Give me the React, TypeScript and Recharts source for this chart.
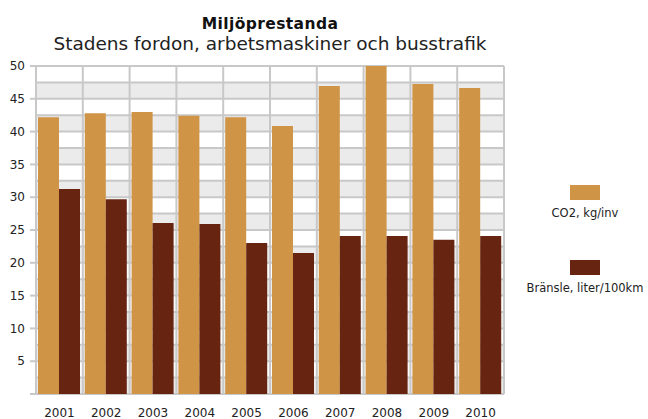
import React from 'react';
import { BarChart, Bar, XAxis, YAxis, CartesianGrid } from 'recharts';

const years = ['2001', '2002', '2003', '2004', '2005', '2006', '2007', '2008', '2009', '2010'];
const co2 = [42.2, 42.8, 43.0, 42.4, 42.2, 40.85, 46.95, 50.0, 47.25, 46.65];
const fuel = [31.25, 29.7, 26.05, 25.9, 23.0, 21.5, 24.1, 24.1, 23.5, 24.1];
const seriesNames = ['CO2, kg/inv', 'Bränsle, liter/100km'];
const seriesColors = ['#CF9445', '#672511'];
const yTicks = [0, 5, 10, 15, 20, 25, 30, 35, 40, 45, 50];
const gridTicks = [0, 2.5, 5, 7.5, 10, 12.5, 15, 17.5, 20, 22.5, 25, 27.5, 30, 32.5, 35, 37.5, 40, 42.5, 45, 47.5, 50];
// category boundaries, expressed on the index axis (index 0 .. n-1 spans the plot width)
const boundaryTicks = [0, 0.9, 1.8, 2.7, 3.6, 4.5, 5.4, 6.3, 7.2, 8.1, 9];
const title = 'Miljöprestanda';
const subtitle = 'Stadens fordon, arbetsmaskiner och busstrafik';

const data = years.map((y, i) => ({ year: y, co2: co2[i], fuel: fuel[i] }));

const FONT = '"DejaVu Sans", Verdana, sans-serif';
const GRID = '#c8c8c8';

export default function App() {
  return (
    <div style={{ position: 'absolute', left: 0, top: 0, width: 648, height: 419, background: '#fff', fontFamily: FONT }}>
      <BarChart
        width={648}
        height={419}
        data={data}
        margin={{ top: 66, right: 144, bottom: 0, left: 0 }}
        barCategoryGap={2}
        barGap={0}
      >
        <CartesianGrid
          xAxisId="num"
          yAxisId="main"
          horizontalValues={gridTicks}
          verticalValues={boundaryTicks}
          stroke={GRID}
          strokeWidth={2}
          horizontalFill={['#ffffff', '#ebebeb']}
          fillOpacity={1}
        />
        <XAxis
          xAxisId="num"
          type="number"
          scale="linear"
          domain={[0, 9]}
          allowDataOverflow={true}
          ticks={boundaryTicks}
          height={0}
          tickSize={6}
          tickFormatter={() => ''}
          axisLine={{ stroke: GRID, strokeWidth: 2 }}
          tickLine={{ stroke: GRID, strokeWidth: 2 }}
        />
        <XAxis
          xAxisId="cat"
          dataKey="year"
          height={25}
          tickLine={false}
          axisLine={false}
          tickSize={6}
          tickMargin={8}
          interval={0}
          tick={{ fontSize: 12, fill: '#222', fontFamily: FONT }}
        />
        <YAxis
          yAxisId="main"
          width={36}
          domain={[0, 50]}
          ticks={yTicks}
          interval={0}
          tickSize={6}
          tickMargin={5}
          tickFormatter={(v: number) => (v === 0 ? '' : String(v))}
          axisLine={{ stroke: GRID, strokeWidth: 2 }}
          tickLine={{ stroke: GRID, strokeWidth: 2 }}
          tick={{ fontSize: 12, fill: '#222', fontFamily: FONT }}
        />
        <Bar xAxisId="cat" yAxisId="main" dataKey="co2" name={seriesNames[0]} fill={seriesColors[0]} isAnimationActive={false} />
        <Bar xAxisId="cat" yAxisId="main" dataKey="fuel" name={seriesNames[1]} fill={seriesColors[1]} isAnimationActive={false} />
      </BarChart>
      <svg width={648} height={419} style={{ position: 'absolute', left: 0, top: 0, pointerEvents: 'none' }}>
        <text x={270} y={28.5} textAnchor="middle" fontFamily={FONT} fontWeight="bold" fontSize={15.5} letterSpacing={0.4} fill="#111">{title}</text>
        <text x={270} y={49.5} textAnchor="middle" fontFamily={FONT} fontSize={18.5} fill="#222">{subtitle}</text>
        {seriesNames.map((n, i) => (
          <g key={n}>
            <rect x={570} y={185 + i * 75} width={30} height={15} fill={seriesColors[i]} />
            <text x={585} y={217 + i * 75} textAnchor="middle" fontFamily={FONT} fontSize={11.5} fill="#222">{n}</text>
          </g>
        ))}
      </svg>
    </div>
  );
}
